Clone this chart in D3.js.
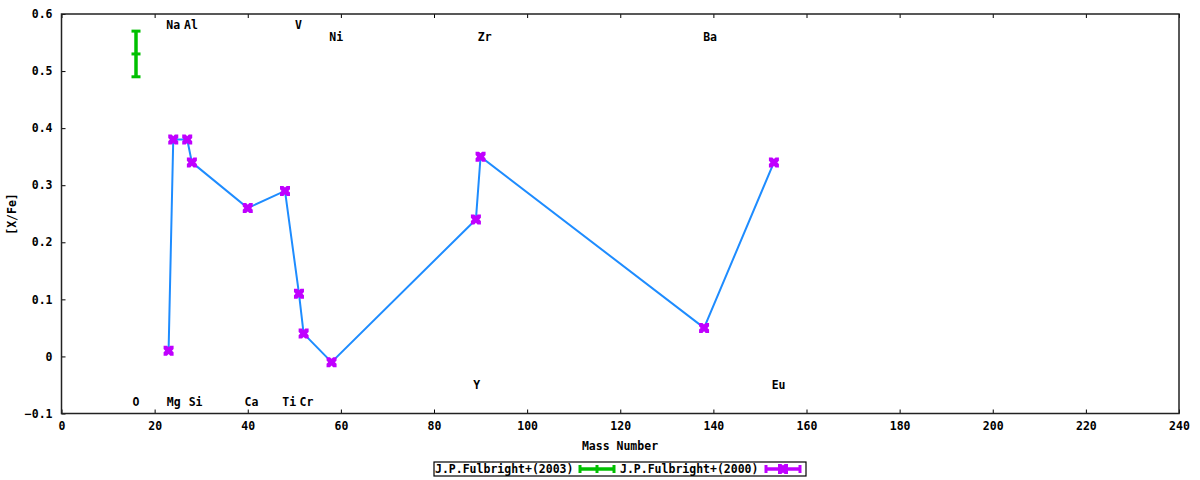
<!DOCTYPE html>
<html lang="en">
<head>
<meta charset="UTF-8" />
<title>[X/Fe] vs Mass Number</title>
<script src="https://d3js.org/d3.v7.min.js"></script>
<style>
body { margin: 0; padding: 0; background: #fff; }
svg { display: block; }
text { font-family: "DejaVu Sans Mono", monospace; font-weight: bold; font-size: 11.5px; fill: #000; }
</style>
</head>
<body>
<svg width="1200" height="480"></svg>
<script>
// Fulbright (2000) abundances, connected by a line
const mass2000 = [23, 24, 27, 28, 40, 48, 51, 52, 58, 89, 90, 138, 153];
const xfe2000 = [0.01, 0.38, 0.38, 0.34, 0.26, 0.29, 0.11, 0.04, -0.01, 0.24, 0.35, 0.05, 0.34];

// Fulbright (2003) oxygen, with error bar
const mass2003 = [16];
const xfe2003 = [0.53];
const err2003 = [0.04];

// element labels (x, y in data units)
const elemNames = ["O", "Na", "Mg", "Al", "Si", "Ca", "Ti", "V", "Cr", "Ni", "Y", "Zr", "Ba", "Eu"];
const elemX = [16, 24, 24.1, 27.8, 28.8, 40.8, 48.9, 50.9, 52.6, 59, 89.2, 90.9, 139.3, 154];
const elemY = [-0.08, 0.58, -0.08, 0.58, -0.08, -0.08, -0.08, 0.58, -0.08, 0.56, -0.05, 0.56, 0.56, -0.05];

const xTicks = [0, 20, 40, 60, 80, 100, 120, 140, 160, 180, 200, 220, 240];
const yTicks = [-0.1, 0, 0.1, 0.2, 0.3, 0.4, 0.5, 0.6];

const seriesNames = ["J.P.Fulbright+(2003)", "J.P.Fulbright+(2000)"];

const green = "#00c000", purple = "#c000ff", blue = "#1e8cff";

const svg = d3.select("svg");
svg.append("rect").attr("width", 1200).attr("height", 480).attr("fill", "#fff");

const x = d3.scaleLinear().domain([0, 240]).range([61.5, 1179]);
const y = d3.scaleLinear().domain([-0.1, 0.6]).range([413.5, 14]);

// axes with inward ticks
const fmtY = d => d === 0 ? "0" : d3.format(".1f")(d);
const axBottom = svg.append("g").attr("transform", `translate(0,${y(-0.1)})`)
    .call(d3.axisBottom(x).tickValues(xTicks).tickSize(-4).tickPadding(10).tickFormat(d3.format("d")));
const axTop = svg.append("g").attr("transform", `translate(0,${y(0.6)})`)
    .call(d3.axisTop(x).tickValues(xTicks).tickSize(-4).tickFormat(""));
const axLeft = svg.append("g").attr("transform", `translate(${x(0)},0)`)
    .call(d3.axisLeft(y).tickValues(yTicks).tickSize(-4).tickPadding(9).tickFormat(fmtY));
[axBottom, axTop, axLeft].forEach(g => {
    g.select(".domain").remove();
    g.selectAll(".tick line").attr("stroke", "#000").attr("stroke-width", 1);
    g.selectAll(".tick text").attr("font-family", null).attr("font-size", null);
});
axBottom.selectAll(".tick text").attr("dy", "0.6em");

// border
svg.append("rect")
    .attr("x", x(0)).attr("y", y(0.6))
    .attr("width", x(240) - x(0)).attr("height", y(-0.1) - y(0.6))
    .attr("fill", "none").attr("stroke", "#222").attr("stroke-width", 1.5);

// axis titles
svg.append("text").attr("x", 620).attr("y", 450).attr("text-anchor", "middle").text("Mass Number");
svg.append("text").attr("transform", "translate(16,214) rotate(-90)")
    .attr("text-anchor", "middle").text("[X/Fe]");

// element labels
svg.append("g").selectAll("text").data(elemNames).join("text")
    .attr("x", (d, i) => x(elemX[i]))
    .attr("y", (d, i) => y(elemY[i]))
    .attr("dy", "0.35em")
    .attr("text-anchor", "middle")
    .text(d => d);

// 2000 line
const pts = mass2000.map((m, i) => [m, xfe2000[i]]);
svg.append("path").datum(pts)
    .attr("d", d3.line().x(d => x(d[0])).y(d => y(d[1])))
    .attr("fill", "none").attr("stroke", blue).attr("stroke-width", 2);

// purple markers: blocky square with a notch in each side
function marker(g, cx, cy) {
    const s = 5, n = 1.6, d = 1.6;
    const p = [
        [-s, -s], [-n, -s], [0, -s + d], [n, -s], [s, -s],
        [s, -n], [s - d, 0], [s, n], [s, s],
        [n, s], [0, s - d], [-n, s], [-s, s],
        [-s, n], [-s + d, 0], [-s, -n]
    ];
    g.append("path")
        .attr("d", "M" + p.map(q => `${cx + q[0]},${cy + q[1]}`).join("L") + "Z")
        .attr("fill", purple);
}
const mk = svg.append("g");
pts.forEach(d => marker(mk, x(d[0]), y(d[1])));

// green error bar
const eb = svg.append("g").attr("stroke", green).attr("stroke-width", 3.5);
mass2003.forEach((m, i) => {
    const cx = x(m);
    eb.append("line").attr("x1", cx).attr("x2", cx).attr("y1", y(xfe2003[i] + err2003[i])).attr("y2", y(xfe2003[i] - err2003[i]));
    [xfe2003[i] + err2003[i], xfe2003[i], xfe2003[i] - err2003[i]].forEach(v => {
        eb.append("line").attr("x1", cx - 4.5).attr("x2", cx + 4.5).attr("y1", y(v)).attr("y2", y(v)).attr("stroke-width", 3);
    });
});

// legend
const lg = svg.append("g");
lg.append("rect").attr("x", 434).attr("y", 462).attr("width", 372).attr("height", 14)
    .attr("fill", "#fff").attr("stroke", "#000").attr("stroke-width", 1.2);
lg.append("text").attr("x", 435).attr("y", 469).attr("dy", "0.35em").text(seriesNames[0]);
lg.append("text").attr("x", 620).attr("y", 469).attr("dy", "0.35em").text(seriesNames[1]);
function legendBar(x0, x1, color, withMarker) {
    const g = lg.append("g").attr("stroke", color);
    g.append("line").attr("x1", x0).attr("x2", x1).attr("y1", 469).attr("y2", 469).attr("stroke-width", 3.5);
    [x0, x1].forEach(xx => g.append("line").attr("x1", xx).attr("x2", xx).attr("y1", 465).attr("y2", 473).attr("stroke-width", 3));
    if (withMarker) marker(lg, (x0 + x1) / 2, 469);
    else g.append("line").attr("x1", (x0 + x1) / 2).attr("x2", (x0 + x1) / 2).attr("y1", 465).attr("y2", 473).attr("stroke-width", 3);
}
legendBar(580, 614, green, false);
legendBar(766, 800, purple, true);
</script>
</body>
</html>
